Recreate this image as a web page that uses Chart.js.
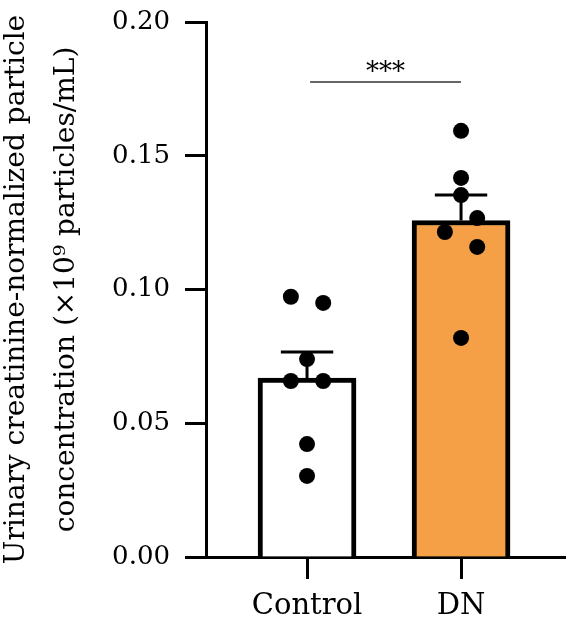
<!DOCTYPE html>
<html>
<head>
<meta charset="utf-8">
<script src="https://cdn.jsdelivr.net/npm/chart.js@4"></script>
<style>
  html, body { margin: 0; padding: 0; background: #fff; }
  #wrap { width: 569px; height: 629px; }
</style>
</head>
<body>
<div id="wrap"><canvas id="chart" width="569" height="629"></canvas></div>
<script>
// values
const categories = ['Control', 'DN'];
const barMeans = [0.0669, 0.1258];
const barSem = [0.0097, 0.0095];
const controlValues = [0.0973, 0.0950, 0.0740, 0.0658, 0.0658, 0.0422, 0.0303];
const dnValues = [0.1593, 0.1417, 0.1353, 0.1267, 0.1215, 0.1159, 0.0819];
const controlSlots = [-1, 1, 0, -1, 1, 0, 0];
const dnSlots = [0, 0, 0, 1, -1, 1, 0];
const yTicks = [0, 0.05, 0.10, 0.15, 0.20];
const yTitle = ['Urinary creatinine-normalized particle', 'concentration (\u00d710\u2079 particles/mL)'];
const sigLabel = '***';
const sigLevel = 0.1776;

const FONT = "'DejaVu Serif', serif";
const INK = '#000';
const SPREAD = 0.105;  // jitter step in x units
const CAP = 0.17;      // half cap width in x units

const points = (vals, slots, pos) => vals.map((v, i) => ({ x: pos + slots[i] * SPREAD, y: v }));

function errorBar(i) {
  const pos = i + 1, top = barMeans[i] + barSem[i];
  return {
    type: 'line',
    data: [{ x: pos, y: barMeans[i] }, { x: pos, y: top }, { x: pos - CAP, y: top }, { x: pos + CAP, y: top }],
    borderColor: INK, borderWidth: 3, pointRadius: 0, fill: false, tension: 0, order: 1,
  };
}

const annotations = {
  id: 'annotations',
  afterDraw(chart) {
    const { ctx, chartArea, scales: { x, y } } = chart;
    ctx.save();
    ctx.fillStyle = INK;
    ctx.textAlign = 'center';

    // axis title, two rotated lines
    ctx.font = `28px ${FONT}`;
    ctx.textBaseline = 'middle';
    const cy = (chartArea.top + chartArea.bottom) / 2;
    yTitle.forEach((line, i) => {
      ctx.save();
      ctx.translate(17 + i * 50, cy);
      ctx.rotate(-Math.PI / 2);
      ctx.fillText(line, 0, 0);
      ctx.restore();
    });

    // significance stars over the bracket
    ctx.font = `26px ${FONT}`;
    ctx.textBaseline = 'alphabetic';
    const sx = (x.getPixelForValue(1.02) + x.getPixelForValue(2)) / 2;
    ctx.fillText(sigLabel, sx, y.getPixelForValue(sigLevel) - 2);
    ctx.restore();
  }
};

new Chart(document.getElementById('chart'), {
  type: 'bar',
  data: {
    datasets: [
      {
        type: 'line',
        data: points(controlValues, controlSlots, 1).concat(points(dnValues, dnSlots, 2)),
        showLine: false, pointRadius: 8, pointHoverRadius: 8,
        pointBackgroundColor: INK, pointBorderWidth: 0, order: 0,
      },
      errorBar(0),
      errorBar(1),
      {
        type: 'line',
        data: [{ x: 1.02, y: sigLevel }, { x: 2, y: sigLevel }],
        borderColor: '#333', borderWidth: 1.5, pointRadius: 0, order: 1,
      },
      {
        type: 'bar',
        data: barMeans.map((m, i) => ({ x: i + 1, y: m })),
        backgroundColor: ['#ffffff', '#F5A047'],
        borderColor: INK, borderWidth: 5, borderSkipped: 'start',
        barThickness: 98, order: 2,
      },
    ],
  },
  options: {
    responsive: false,
    animation: false,
    events: [],
    layout: { autoPadding: false, padding: { top: 22, right: 4, left: 0, bottom: 0 } },
    plugins: { legend: { display: false }, tooltip: { enabled: false } },
    scales: {
      x: {
        type: 'linear', min: 0.344, max: 2.675, offset: false,
        afterBuildTicks: s => { s.ticks = categories.map((c, i) => ({ value: i + 1 })); },
        afterFit: s => { s.height = 72; },
        grid: { offset: false, drawOnChartArea: false, tickLength: 22, tickColor: INK, tickWidth: 3 },
        border: { color: INK, width: 3 },
        ticks: { callback: v => categories[v - 1], color: INK, padding: 10, font: { family: FONT, size: 29 } },
      },
      y: {
        min: 0, max: 0.2,
        afterBuildTicks: s => { s.ticks = yTicks.map(v => ({ value: v })); },
        afterFit: s => { s.width = 206; },
        grid: { drawOnChartArea: false, tickLength: 21, tickColor: INK, tickWidth: 3 },
        border: { color: INK, width: 3 },
        ticks: { callback: v => v.toFixed(2), color: INK, padding: 15, font: { family: FONT, size: 26, lineHeight: 0.5 } },
      },
    },
  },
  plugins: [annotations],
});
</script>
</body>
</html>
